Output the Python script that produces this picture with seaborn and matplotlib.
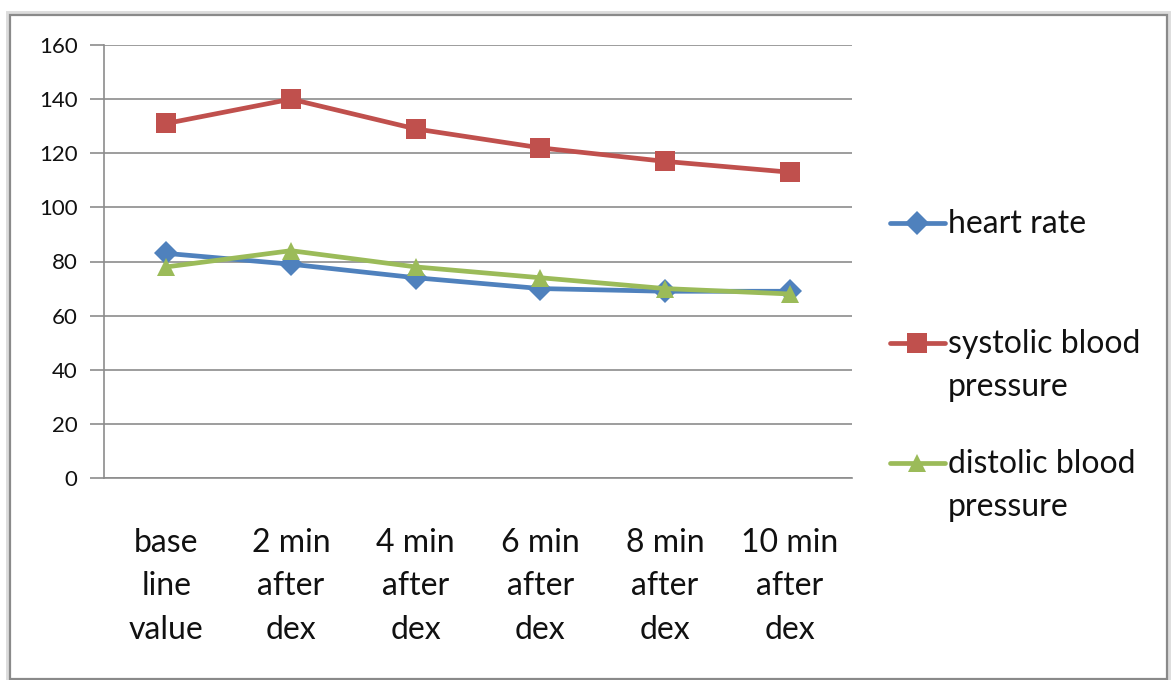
import matplotlib
matplotlib.use("Agg")
import matplotlib.pyplot as plt
from matplotlib.patches import Rectangle
from matplotlib.ticker import MultipleLocator, FixedLocator
import pandas as pd
import seaborn as sns

# Measurement time points
categories = ["base\nline\nvalue", "2 min\nafter\ndex", "4 min\nafter\ndex",
              "6 min\nafter\ndex", "8 min\nafter\ndex", "10 min\nafter\ndex"]

# Series values
heart_rate = [83, 79, 74, 70, 69, 69]
systolic_bp = [131, 140, 129, 122, 117, 113]
diastolic_bp = [78, 84, 78, 74, 70, 68]

series_names = ["heart rate", "systolic blood pressure", "distolic blood pressure"]
legend_labels = ["heart rate", "systolic blood\npressure", "distolic blood\npressure"]

rows = []
for name, vals in zip(series_names, [heart_rate, systolic_bp, diastolic_bp]):
    for i, v in enumerate(vals):
        rows.append({"pos": i, "value": v, "series": name})
df = pd.DataFrame(rows)

sns.set_theme(style="white")
plt.rcParams["font.family"] = ["Lato", "DejaVu Sans"]

W, H = 1172, 680
fig = plt.figure(figsize=(W / 100, H / 100), dpi=100)
ax = fig.add_axes([104 / W, 1 - 478 / H, (852 - 104) / W, (478 - 45) / H])

palette = {"heart rate": "#4F81BD",
           "systolic blood pressure": "#C0504D",
           "distolic blood pressure": "#9BBB59"}
markers = {"heart rate": "D",
           "systolic blood pressure": "s",
           "distolic blood pressure": "^"}
marker_sizes = {"D": 12.5, "s": 15, "^": 13.5}

sns.lineplot(data=df, x="pos", y="value", hue="series", style="series",
             palette=palette, markers=markers, dashes=False,
             hue_order=series_names, style_order=series_names,
             linewidth=3.4, markersize=14, markeredgewidth=0, ax=ax, zorder=3)

for line in ax.lines:
    m = line.get_marker()
    if m in marker_sizes:
        line.set_markersize(marker_sizes[m])

# Axes styling
ax.set_xlim(-0.5, 5.5)
ax.set_ylim(0, 160)
ax.yaxis.set_major_locator(MultipleLocator(20))
ax.grid(axis="y", color="#8c8c8c", linewidth=1.2)
ax.set_axisbelow(True)
for side in ["top", "right"]:
    ax.spines[side].set_visible(False)
for side in ["left", "bottom"]:
    ax.spines[side].set_color("#8c8c8c")
    ax.spines[side].set_linewidth(1.2)

ax.set_xticks(range(len(categories)))
ax.set_xticklabels(categories, fontsize=23, color="#111111", linespacing=1.56)
ax.xaxis.set_minor_locator(FixedLocator([i - 0.5 for i in range(len(categories) + 1)]))
ax.tick_params(axis="x", which="major", length=0, pad=36)
ax.tick_params(axis="x", which="minor", length=10, width=1.2, color="#8c8c8c", direction="out")
ax.tick_params(axis="y", which="major", length=10, width=1.2, color="#8c8c8c",
               direction="out", labelsize=16, labelcolor="#111111", pad=9, left=True)
ax.set_xlabel("")
ax.set_ylabel("")

# Legend entries on the right, one block per series
handles, _ = ax.get_legend_handles_labels()
if ax.get_legend() is not None:
    ax.get_legend().remove()
for h in handles:
    m = h.get_marker()
    if m in marker_sizes:
        h.set_markersize(marker_sizes[m])

entry_tops = [209, 329, 449]
for h, lab, top in zip(handles, legend_labels, entry_tops):
    leg = fig.legend([h], [lab], loc="upper left",
                     bbox_to_anchor=(890 / W, 1 - top / H),
                     frameon=False, fontsize=23, handlelength=1.72,
                     handleheight=1.2, handletextpad=0.1, borderpad=0,
                     borderaxespad=0)
    for col in leg._legend_handle_box.get_children():
        for item in col.get_children():
            item.align = "top"
    for t in leg.get_texts():
        t.set_linespacing(1.56)
        t.set_color("#111111")

# Chart-area border with a soft shadow
fig.patches.append(Rectangle((8 / W, 0 / H), 1160 / W, 667 / H,
                             transform=fig.transFigure, fill=False,
                             edgecolor="#dcdcdc", linewidth=3.5, zorder=0))
fig.patches.append(Rectangle((10 / W, 1.5 / H), 1157 / W, 664 / H,
                             transform=fig.transFigure, fill=False,
                             edgecolor="#8a8a8a", linewidth=1.6, zorder=1))

fig.savefig("out.png", dpi=100, facecolor="white")
